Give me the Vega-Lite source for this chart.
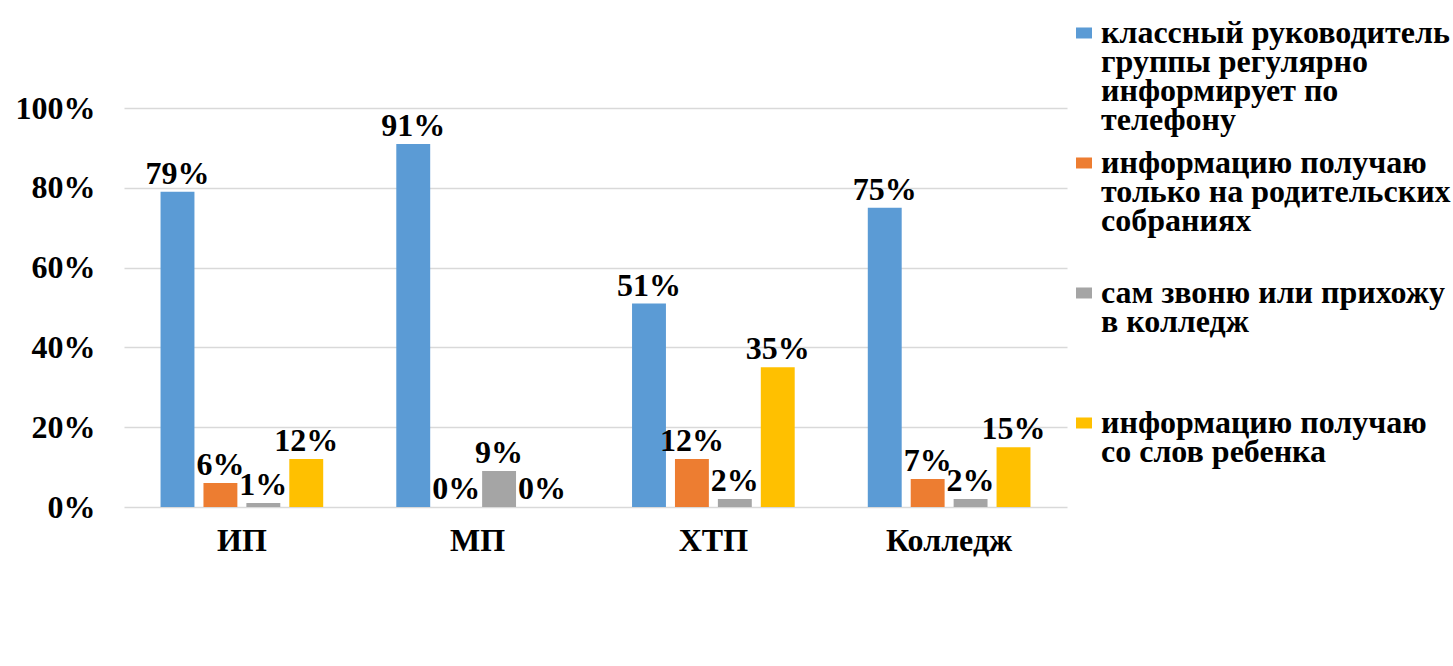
{
  "$schema": "https://vega.github.io/schema/vega-lite/v6.json",
  "autosize": {"type": "none"},
  "width": 943,
  "height": 399,
  "padding": {"left": 124, "top": 108, "right": 386, "bottom": 159},
  "background": "white",
  "config": {
    "view": {"stroke": null},
    "font": "Liberation Serif",
    "style": {"guide-label": {"font": "Liberation Serif", "lineHeight": 29}},
    "legend": {"labelFont": "Liberation Serif"}
  },
  "data": {
    "values": [
      {"group": "ИП", "series": "классный руководитель группы регулярно информирует по телефону", "value": 0.79},
      {"group": "ИП", "series": "информацию получаю только на родительских собраниях", "value": 0.06},
      {"group": "ИП", "series": "сам звоню или прихожу в колледж", "value": 0.01},
      {"group": "ИП", "series": "информацию получаю со слов ребенка", "value": 0.12},
      {"group": "МП", "series": "классный руководитель группы регулярно информирует по телефону", "value": 0.91},
      {"group": "МП", "series": "информацию получаю только на родительских собраниях", "value": 0.0},
      {"group": "МП", "series": "сам звоню или прихожу в колледж", "value": 0.09},
      {"group": "МП", "series": "информацию получаю со слов ребенка", "value": 0.0},
      {"group": "ХТП", "series": "классный руководитель группы регулярно информирует по телефону", "value": 0.51},
      {"group": "ХТП", "series": "информацию получаю только на родительских собраниях", "value": 0.12},
      {"group": "ХТП", "series": "сам звоню или прихожу в колледж", "value": 0.02},
      {"group": "ХТП", "series": "информацию получаю со слов ребенка", "value": 0.35},
      {"group": "Колледж", "series": "классный руководитель группы регулярно информирует по телефону", "value": 0.75},
      {"group": "Колледж", "series": "информацию получаю только на родительских собраниях", "value": 0.07},
      {"group": "Колледж", "series": "сам звоню или прихожу в колледж", "value": 0.02},
      {"group": "Колледж", "series": "информацию получаю со слов ребенка", "value": 0.15}
    ]
  },
  "encoding": {
    "x": {
      "field": "group", "type": "nominal", "sort": null,
      "scale": {"paddingInner": 0.31, "paddingOuter": 0.155},
      "axis": {
        "title": null, "domain": false, "ticks": false, "labelAngle": 0,
        "labelFontSize": 32, "labelFontWeight": "bold", "labelColor": "black",
        "labelFont": "Liberation Serif", "labelPadding": 18
      }
    },
    "xOffset": {
      "field": "series", "type": "nominal", "sort": null,
      "scale": {"paddingInner": 0.21, "paddingOuter": 0}
    },
    "y": {
      "field": "value", "type": "quantitative",
      "scale": {"domain": [0, 1], "nice": false},
      "axis": {
        "title": null, "domain": false, "ticks": false,
        "values": [0, 0.2, 0.4, 0.6, 0.8, 1], "format": ".0%",
        "gridColor": "#d9d9d9", "gridWidth": 1.5,
        "labelFontSize": 32, "labelFontWeight": "bold", "labelColor": "black",
        "labelFont": "Liberation Serif", "labelPadding": 29
      }
    }
  },
  "layer": [
    {
      "mark": {"type": "bar"},
      "encoding": {
        "color": {
          "field": "series", "type": "nominal", "sort": null,
          "scale": {
            "domain": [
              "классный руководитель группы регулярно информирует по телефону",
              "информацию получаю только на родительских собраниях",
              "сам звоню или прихожу в колледж",
              "информацию получаю со слов ребенка"
            ],
            "range": ["#5B9BD5", "#ED7D31", "#A5A5A5", "#FFC000"]
          },
          "legend": {
            "title": null,
            "orient": "none",
            "legendX": 944,
            "legendY": -81,
            "labelFont": "Liberation Serif",
            "labelFontSize": 32,
            "labelFontWeight": "bold",
            "labelColor": "black",
            "labelLimit": 0,
            "labelBaseline": "alphabetic",
            "labelOffset": 1,
            "gridAlign": "all",
            "rowPadding": 11,
            "symbolType": "M-1.45,-2.82H1.45V-0.82H-1.45Z",
            "symbolSize": 121,
            "symbolStrokeWidth": 0,
            "symbolOpacity": 1,
            "labelExpr": "datum.label == 'классный руководитель группы регулярно информирует по телефону' ? ['классный руководитель', 'группы регулярно', 'информирует по', 'телефону'] : datum.label == 'информацию получаю только на родительских собраниях' ? ['информацию получаю', 'только на родительских', 'собраниях'] : datum.label == 'сам звоню или прихожу в колледж' ? ['сам звоню или прихожу', 'в колледж'] : ['информацию получаю', 'со слов ребенка']"
          }
        }
      }
    },
    {
      "mark": {
        "type": "text", "baseline": "alphabetic", "dy": -8,
        "font": "Liberation Serif", "fontSize": 32, "fontWeight": "bold", "color": "black"
      },
      "encoding": {
        "text": {"field": "value", "type": "quantitative", "format": ".0%"}
      }
    }
  ]
}
